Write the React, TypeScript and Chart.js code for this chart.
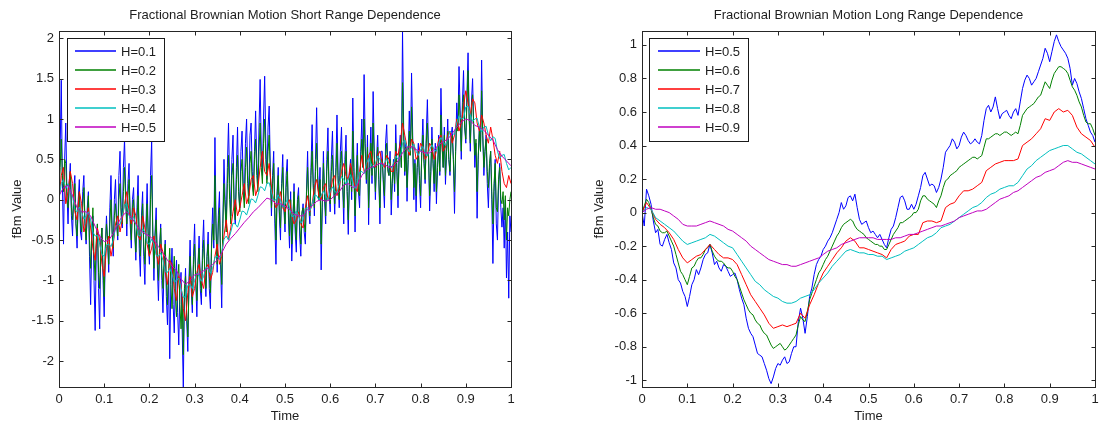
import React, { useEffect, useRef } from "react";
import { Chart, registerables } from "chart.js";

Chart.register(...registerables);

const FONT = '"Liberation Sans", Arial, Helvetica, sans-serif';
const TEXT = "#1e1e1e";
const COLORS = ["#0000ff", "#008000", "#ff0000", "#00bfbf", "#bf00bf"];

const SHORT_LABELS = ["H=0.1", "H=0.2", "H=0.3", "H=0.4", "H=0.5"];
const LONG_LABELS = ["H=0.5", "H=0.6", "H=0.7", "H=0.8", "H=0.9"];

const X_TICKS = [0, 0.1, 0.2, 0.3, 0.4, 0.5, 0.6, 0.7, 0.8, 0.9, 1];
const SHORT_Y_TICKS = [-2, -1.5, -1, -0.5, 0, 0.5, 1, 1.5, 2];
const LONG_Y_TICKS = [-1, -0.8, -0.6, -0.4, -0.2, 0, 0.2, 0.4, 0.6, 0.8, 1];

// ---- Short range dependence (left), samples evenly spaced over time 0..1 ----
const SHORT_H01 = [
  0.05, 0.6, 1.48, 0.2, -0.55, 0.5, 0.95, 0.1, -0.3, 0.2, 0.45, -0.2, -0.45, 0.1, 0.3, -0.3, -0.6, 0.0, 0.25, -0.4,
  -0.5, 0.1, 0.3, -0.3, -0.55, -0.1, 0.1, -0.7, -1.3, -0.5, -0.2, -1.0, -1.62, -0.6, -0.3, -1.1, -1.6, -0.5, -0.35, -1.0,
  -1.45, -0.6, -0.2, -0.5, -0.9, -0.1, 0.3, -0.4, -0.7, 0.0, 0.25, -0.3, -0.5, 0.3, 0.6, -0.1, -0.35, 0.4, 0.75, 0.1,
  -0.45, 0.2, 0.45, -0.3, -0.6, 0.0, 0.15, -0.4, -0.75, -0.1, 0.3, -0.6, -0.95, -0.2, 0.1, -0.7, -1.05, -0.3, 0.2, -0.5,
  -0.8, 0.3, 0.74, -0.4, -1.0, -0.4, -0.1, -0.8, -1.25, -0.6, -0.3, -1.0, -1.4, -0.8, -0.5, -1.2, -1.55, -0.9, -1.97, -1.0,
  -0.6, -1.3, -1.65, -1.0, -0.75, -1.4, -1.8, -1.1, -0.9, -1.6, -2.32, -1.2, -0.85, -1.5, -1.88, -1.0, -0.5, -1.1, -1.4, -0.7,
  -0.3, -1.0, -1.45, -0.8, -0.45, -1.1, -1.3, -0.6, -0.25, -0.9, -1.2, -0.7, -0.4, -1.1, -1.35, -0.5, -0.1, -0.6, 0.77, -0.3,
  -0.9, -0.2, 0.1, -0.8, -1.34, -0.3, 0.5, 0.0, -0.35, 0.4, 0.95, 0.2, -0.2, 0.5, 0.8, -0.1, -0.3, 0.4, 0.9, 0.1,
  -0.1, 0.6, 0.85, 0.2, 0.0, 0.7, 1.0, 0.3, 0.05, 0.8, 0.95, 0.35, 0.1, 0.6, 1.1, 0.45, 0.2, 0.9, 1.49, 0.6,
  0.3, 1.0, 1.53, 0.7, 0.25, 0.9, 1.16, 0.4, -0.2, 0.3, 0.6, -0.3, -0.8, 0.1, 0.4, -0.2, -0.5, 0.2, 0.56, -0.1,
  -0.4, 0.3, 0.5, -0.2, -0.6, 0.1, -0.76, -0.3, 0.2, -0.4, -0.65, 0.0, 0.15, -0.45, -0.7, -0.2, -0.05, -0.4, -0.55, 0.1,
  0.6, -0.1, -0.3, 0.4, 0.93, 0.2, -0.2, 0.5, 1.14, 0.3, 0.0, 0.4, -0.87, -0.1, 0.6, 0.0, -0.3, 0.5, 0.89, 0.1,
  -0.15, 0.5, 0.85, 0.2, -0.18, 0.4, 1.05, 0.3, -0.1, 0.6, 0.9, 0.2, -0.3, 0.5, 0.8, 0.1, -0.43, 0.3, 0.5, 0.0,
  1.26, 0.4, -0.4, 0.3, 0.7, 0.1, -0.1, 0.6, 1.0, 0.4, 1.55, 0.7, 0.2, 0.8, -0.31, 0.5, 0.9, 0.2, 1.34, 0.6,
  0.0, 0.5, 0.8, 0.3, -0.3, 0.6, 0.6, 0.2, -0.1, 0.7, 0.93, 0.4, 0.3, 0.6, -0.19, 0.2, 0.5, 0.1, 0.93, 0.4,
  -0.1, 0.6, 0.8, 0.4, 2.09, 0.9, 0.3, 0.7, -0.02, 0.5, 1.1, 0.6, 1.57, 0.8, 0.0, 0.5, -0.15, 0.4, 0.7, 0.2,
  -0.1, 0.6, 1.0, 0.5, 0.2, 0.8, 1.24, 0.6, -0.14, 0.3, 0.9, 0.5, 0.1, 0.7, -0.05, 0.4, 0.8, 0.3, 1.38, 0.7,
  0.4, 0.9, 0.19, 0.6, 1.0, 0.5, 0.3, 0.8, 0.9, 0.5, -0.17, 0.6, 1.2, 0.9, 1.65, 1.1, 0.5, 1.2, 1.6, 0.9,
  0.7, 1.3, 1.82, 1.0, 0.6, 1.2, 1.5, 0.9, 0.4, 0.7, -0.23, 0.5, 0.9, 0.6, 1.73, 0.8, 0.3, 0.6, 0.8, 0.2,
  -0.1, 0.4, 0.6, 0.0, -0.79, 0.1, 0.5, -0.3, -0.5, 0.2, 0.45, -0.1, -0.34, -0.1, -0.6, 0.0, -0.97, -0.4, -1.22, -0.2,
  -0.4,
];

const SHORT_H02 = [
  0.0, 0.4, 0.75, 0.3, 0.1, 0.5, 0.45, 0.0, -0.1, 0.15, 0.35, -0.1, -0.25, 0.0, 0.2, -0.3, -0.45, -0.05, 0.1, -0.3,
  -0.4, -0.1, 0.15, -0.3, -0.5, -0.2, 0.05, -0.5, -0.85, -0.4, -0.1, -0.7, -1.0, -0.5, -0.3, -0.9, -1.1, -0.6, -0.35, -0.85,
  -1.2, -0.6, -0.3, -0.5, -0.8, -0.3, 0.0, -0.4, -0.6, -0.2, -0.05, -0.3, -0.45, 0.0, 0.2, -0.2, -0.3, 0.1, 0.4, 0.0,
  -0.3, 0.05, 0.25, -0.2, -0.5, -0.1, 0.0, -0.35, -0.65, -0.25, 0.05, -0.45, -0.7, -0.3, -0.05, -0.55, -0.8, -0.4, -0.05, -0.45,
  -0.7, 0.0, 0.3, -0.4, -0.85, -0.45, -0.25, -0.7, -1.0, -0.6, -0.35, -0.85, -1.1, -0.75, -0.55, -1.0, -1.3, -0.85, -0.6, -1.05,
  -1.35, -0.95, -0.7, -1.2, -1.45, -1.0, -0.8, -1.3, -1.6, -1.2, -1.92, -1.1, -0.95, -1.4, -1.7, -1.1, -0.7, -1.0, -1.3, -0.8,
  -0.55, -1.0, -1.25, -0.8, -0.6, -1.0, -1.15, -0.75, -0.5, -0.9, -1.1, -0.7, -0.55, -0.95, -1.15, -0.6, -0.3, -0.5, 0.3, -0.4,
  -0.8, -0.3, -0.1, -0.7, -1.05, -0.3, 0.2, -0.1, -0.4, 0.2, 0.55, 0.0, -0.3, 0.3, 0.45, -0.05, -0.25, 0.25, 0.55, 0.1,
  -0.15, 0.35, 0.5, 0.1, -0.1, 0.4, 0.65, 0.2, -0.05, 0.45, 0.6, 0.2, 0.05, 0.5, 0.75, 0.3, 0.1, 0.6, 0.95, 0.4,
  0.2, 0.7, 1.0, 0.5, 0.2, 0.6, 0.8, 0.3, -0.1, 0.2, 0.45, -0.1, -0.5, 0.05, 0.3, -0.15, -0.35, 0.1, 0.4, -0.05,
  -0.3, 0.15, 0.35, -0.1, -0.45, 0.0, -0.55, -0.2, 0.1, -0.3, -0.5, -0.05, 0.05, -0.3, -0.55, -0.15, -0.1, -0.3, -0.4, 0.05,
  0.4, 0.0, -0.2, 0.3, 0.6, 0.15, -0.1, 0.35, 0.7, 0.2, 0.0, 0.25, -0.55, 0.0, 0.45, 0.1, -0.2, 0.35, 0.6, 0.15,
  -0.05, 0.35, 0.55, 0.15, -0.05, 0.3, 0.7, 0.2, 0.0, 0.45, 0.6, 0.2, -0.1, 0.35, 0.6, 0.1, -0.25, 0.2, 0.4, 0.1,
  0.85, 0.35, -0.2, 0.25, 0.55, 0.1, 0.05, 0.5, 0.75, 0.4, 1.0, 0.6, 0.25, 0.65, -0.1, 0.35, 0.7, 0.3, 0.95, 0.5,
  0.1, 0.45, 0.65, 0.25, -0.1, 0.5, 0.5, 0.25, 0.05, 0.55, 0.7, 0.35, 0.3, 0.5, 0.0, 0.25, 0.45, 0.2, 0.7, 0.35,
  0.05, 0.5, 0.65, 0.4, 1.45, 0.8, 0.35, 0.65, 0.15, 0.5, 0.85, 0.55, 1.15, 0.7, 0.15, 0.45, 0.05, 0.4, 0.6, 0.3,
  0.05, 0.55, 0.8, 0.45, 0.25, 0.7, 0.95, 0.55, 0.05, 0.35, 0.75, 0.45, 0.2, 0.6, 0.1, 0.4, 0.7, 0.35, 1.05, 0.65,
  0.4, 0.8, 0.3, 0.6, 0.85, 0.5, 0.35, 0.75, 0.8, 0.5, 0.1, 0.6, 1.0, 0.85, 1.3, 1.0, 0.6, 1.1, 1.3, 0.9,
  0.75, 1.2, 1.6, 1.0, 0.7, 1.15, 1.3, 0.9, 0.55, 0.75, 0.1, 0.55, 0.85, 0.6, 1.35, 0.8, 0.4, 0.6, 0.75, 0.35,
  0.15, 0.45, 0.6, 0.1, -0.3, 0.2, 0.45, -0.1, -0.15, 0.25, 0.4, 0.0, -0.05, 0.1, -0.25, 0.05, -0.5, -0.1, -0.2, 0.0,
  0.1,
];

const SHORT_H03 = [
  0.0, 0.3, 0.4, -0.05, 0.1, 0.35, 0.2, -0.15, -0.25, 0.1, -0.05, -0.4, -0.3, -0.1, -0.35, -0.6, -0.75, -0.35, -0.5, -0.8,
  -0.95, -0.6, -0.45, -0.7, -0.55, -0.3, -0.2, -0.4, -0.25, -0.05, 0.1, -0.15, -0.3, -0.1, -0.2, -0.45, -0.5, -0.2, -0.35, -0.55,
  -0.7, -0.6, -0.45, -0.65, -0.8, -0.55, -0.65, -0.9, -1.05, -0.75, -0.8, -1.1, -1.25, -0.95, -1.05, -1.35, -1.5, -1.15, -0.95, -1.2,
  -1.1, -0.9, -0.8, -1.0, -1.1, -0.85, -0.8, -1.0, -0.9, -0.7, -0.55, -0.8, -0.7, -0.45, -0.25, -0.5, -0.35, -0.15, 0.0, -0.2,
  -0.1, 0.05, 0.2, -0.05, 0.05, 0.25, 0.3, 0.05, 0.15, 0.4, 0.6, 0.35, 0.3, 0.45, 0.15, 0.0, -0.1, -0.05, 0.1, -0.1,
  -0.15, -0.05, 0.0, -0.2, -0.3, -0.25, -0.15, -0.3, -0.35, -0.1, 0.05, -0.15, -0.05, 0.15, 0.25, 0.05, 0.0, 0.15, 0.2, 0.0,
  0.05, 0.25, 0.3, 0.05, 0.15, 0.35, 0.45, 0.3, 0.25, 0.45, 0.3, 0.15, 0.1, 0.35, 0.55, 0.35, 0.4, 0.55, 0.6, 0.45,
  0.4, 0.55, 0.6, 0.45, 0.4, 0.55, 0.5, 0.35, 0.35, 0.6, 0.55, 0.7, 0.95, 0.8, 0.65, 0.55, 0.75, 0.7, 0.5, 0.55,
  0.7, 0.65, 0.5, 0.55, 0.7, 0.65, 0.5, 0.6, 0.75, 0.8, 0.6, 0.65, 0.8, 0.85, 0.7, 0.8, 1.0, 0.85, 0.95, 1.15,
  1.35, 1.2, 1.05, 1.25, 1.2, 0.95, 0.85, 1.05, 0.95, 0.8, 0.7, 0.9, 0.75, 0.55, 0.45, 0.6, 0.35, 0.2, 0.15, 0.3,
  0.2,
];

const SHORT_H04 = [
  0.0, 0.2, 0.25, 0.14, 0.2, 0.1, 0.05, -0.12, -0.15, -0.09, -0.15, -0.24, -0.2, -0.15, -0.25, -0.4, -0.45, -0.44, -0.55, -0.68,
  -0.7, -0.56, -0.55, -0.58, -0.5, -0.34, -0.3, -0.31, -0.2, -0.06, -0.05, -0.2, -0.25, -0.21, -0.3, -0.44, -0.45, -0.36, -0.4, -0.54,
  -0.55, -0.49, -0.55, -0.69, -0.7, -0.66, -0.75, -0.89, -0.9, -0.85, -0.92, -1.02, -1.0, -0.97, -1.1, -1.21, -1.2, -1.06, -1.05, -1.1,
  -1.0, -0.91, -0.95, -1.01, -0.95, -0.84, -0.85, -0.91, -0.85, -0.71, -0.7, -0.74, -0.65, -0.49, -0.45, -0.5, -0.4, -0.29, -0.3, -0.34,
  -0.25, -0.14, -0.15, -0.19, -0.1, 0.01, 0.0, -0.04, 0.05, 0.16, 0.15, 0.11, 0.2, 0.21, 0.1, -0.01, 0.0, 0.06, 0.0, -0.09,
  -0.05, 0.0, -0.1, -0.21, -0.2, -0.14, -0.2, -0.29, -0.25, -0.11, -0.1, -0.14, -0.05, 0.06, 0.05, 0.0, 0.05, 0.11, 0.05, 0.0,
  0.1, 0.16, 0.1, 0.09, 0.2, 0.29, 0.25, 0.19, 0.25, 0.31, 0.2, 0.14, 0.2, 0.34, 0.35, 0.32, 0.45, 0.51, 0.45, 0.39,
  0.45, 0.54, 0.5, 0.41, 0.45, 0.51, 0.45, 0.39, 0.45, 0.54, 0.5, 0.52, 0.7, 0.74, 0.65, 0.59, 0.65, 0.69, 0.6, 0.55,
  0.62, 0.66, 0.58, 0.54, 0.62, 0.68, 0.62, 0.6, 0.7, 0.77, 0.72, 0.67, 0.75, 0.85, 0.82, 0.81, 0.95, 1.04, 1.0, 1.01,
  1.15, 1.16, 1.05, 0.97, 1.0, 1.01, 0.9, 0.84, 0.9, 0.91, 0.8, 0.73, 0.78, 0.76, 0.6, 0.51, 0.55, 0.56, 0.45, 0.37,
  0.4,
];

const SHORT_H05 = [
  0.05, 0.15, 0.18, 0.05, -0.1, -0.15, -0.15, -0.2, -0.33, -0.45,
  -0.52, -0.5, -0.42, -0.3, -0.2, -0.15, -0.22, -0.3, -0.38, -0.42,
  -0.45, -0.5, -0.58, -0.66, -0.75, -0.82, -0.88, -0.98, -1.05, -1.0,
  -0.93, -0.92, -0.88, -0.85, -0.8, -0.75, -0.66, -0.55, -0.48, -0.42,
  -0.35, -0.28, -0.22, -0.15, -0.1, -0.04, 0.02, 0.0, -0.05, -0.05,
  -0.08, -0.12, -0.18, -0.2, -0.2, -0.12, -0.08, -0.02, 0.0, -0.02,
  0.0, 0.05, 0.1, 0.18, 0.2, 0.15, 0.18, 0.3, 0.37, 0.4,
  0.42, 0.45, 0.44, 0.4, 0.42, 0.48, 0.58, 0.65, 0.66, 0.62,
  0.6, 0.58, 0.58, 0.62, 0.68, 0.72, 0.75, 0.82, 0.9, 0.96,
  1.0, 0.98, 0.92, 0.9, 0.86, 0.8, 0.74, 0.62, 0.54, 0.48,
  0.42,
];

// ---- Long range dependence (right) ----
const LONG_H05 = [
  0.0, -0.08, 0.14, 0.1, 0.05, -0.05, -0.12, -0.1, -0.19, -0.2, -0.16, -0.13, -0.18, -0.22, -0.3, -0.33, -0.4, -0.42, -0.47, -0.5,
  -0.56, -0.5, -0.43, -0.4, -0.34, -0.37, -0.33, -0.28, -0.25, -0.24, -0.19, -0.24, -0.31, -0.29, -0.33, -0.35, -0.31, -0.32, -0.35, -0.38,
  -0.37, -0.36, -0.4, -0.46, -0.51, -0.55, -0.63, -0.69, -0.72, -0.74, -0.79, -0.84, -0.85, -0.86, -0.9, -0.94, -0.99, -1.02, -0.98, -0.93,
  -0.9, -0.91, -0.88, -0.86, -0.9, -0.89, -0.84, -0.8, -0.8, -0.65, -0.57, -0.63, -0.72, -0.62, -0.5, -0.45, -0.37, -0.31, -0.28, -0.26,
  -0.22, -0.2, -0.17, -0.15, -0.12, -0.08, -0.04, 0.0, 0.06, 0.02, 0.04, 0.09, 0.1, 0.07, 0.11, 0.03, -0.04, -0.07, -0.06, -0.05,
  -0.09, -0.12, -0.11, -0.13, -0.15, -0.13, -0.16, -0.19, -0.21, -0.15, -0.1, -0.08, -0.03, 0.03, 0.09, 0.1, 0.07, 0.02, 0.02, 0.05,
  0.02, 0.05, 0.1, 0.15, 0.22, 0.24, 0.2, 0.16, 0.17, 0.16, 0.12, 0.15, 0.2, 0.27, 0.36, 0.38, 0.4, 0.44, 0.42, 0.38,
  0.4, 0.45, 0.48, 0.46, 0.43, 0.41, 0.42, 0.44, 0.42, 0.41, 0.46, 0.55, 0.62, 0.64, 0.6, 0.63, 0.69, 0.62, 0.56, 0.59,
  0.6, 0.61, 0.58, 0.56, 0.6, 0.62, 0.58, 0.66, 0.74, 0.79, 0.82, 0.8, 0.76, 0.78, 0.8, 0.84, 0.88, 0.92, 0.98, 0.95,
  0.9, 0.96, 1.02, 1.06, 1.02, 0.99, 0.97, 0.95, 0.92, 0.86, 0.76, 0.8, 0.77, 0.72, 0.68, 0.62, 0.56, 0.52, 0.48, 0.46,
  0.42,
];

const LONG_H06 = [
  0.0, 0.04, 0.08, 0.06, 0.02, -0.03, -0.07, -0.08, -0.11, -0.12, -0.12, -0.11, -0.14, -0.17, -0.2, -0.25, -0.3, -0.35, -0.37, -0.4,
  -0.43, -0.38, -0.33, -0.32, -0.29, -0.27, -0.27, -0.25, -0.22, -0.21, -0.19, -0.23, -0.26, -0.28, -0.29, -0.29, -0.3, -0.32, -0.33, -0.33,
  -0.35, -0.38, -0.4, -0.44, -0.48, -0.52, -0.55, -0.58, -0.6, -0.61, -0.64, -0.66, -0.67, -0.7, -0.72, -0.73, -0.76, -0.79, -0.81, -0.8,
  -0.79, -0.78, -0.8, -0.82, -0.81, -0.79, -0.77, -0.75, -0.73, -0.67, -0.62, -0.64, -0.65, -0.59, -0.52, -0.48, -0.44, -0.4, -0.36, -0.34,
  -0.31, -0.28, -0.26, -0.23, -0.2, -0.17, -0.14, -0.12, -0.09, -0.07, -0.06, -0.05, -0.04, -0.05, -0.08, -0.1, -0.11, -0.12, -0.13, -0.15,
  -0.16, -0.17, -0.18, -0.19, -0.19, -0.2, -0.2, -0.22, -0.22, -0.19, -0.16, -0.13, -0.11, -0.09, -0.06, -0.06, -0.05, -0.04, -0.03, -0.02,
  0.0, 0.0, 0.02, 0.07, 0.1, 0.1, 0.08, 0.07, 0.06, 0.05, 0.03, 0.07, 0.1, 0.15, 0.19, 0.2, 0.22, 0.23, 0.24, 0.25,
  0.27, 0.28, 0.29, 0.3, 0.31, 0.32, 0.33, 0.33, 0.32, 0.33, 0.34, 0.39, 0.44, 0.44, 0.45, 0.46, 0.47, 0.47, 0.46, 0.47,
  0.48, 0.48, 0.47, 0.46, 0.47, 0.48, 0.47, 0.52, 0.58, 0.6, 0.62, 0.63, 0.64, 0.65, 0.67, 0.69, 0.7, 0.74, 0.78, 0.76,
  0.74, 0.79, 0.83, 0.85, 0.87, 0.87, 0.86, 0.85, 0.83, 0.79, 0.75, 0.73, 0.7, 0.66, 0.63, 0.58, 0.54, 0.53, 0.53, 0.5,
  0.46,
];

const LONG_H07 = [
  0.0, 0.06, 0.02, -0.04, -0.07, -0.09, -0.12, -0.16, -0.22, -0.27,
  -0.3, -0.28, -0.26, -0.25, -0.22, -0.19, -0.22, -0.25, -0.27, -0.27,
  -0.28, -0.31, -0.37, -0.43, -0.49, -0.53, -0.57, -0.61, -0.66, -0.69,
  -0.68, -0.67, -0.68, -0.67, -0.66, -0.6, -0.63, -0.55, -0.49, -0.42,
  -0.36, -0.32, -0.28, -0.24, -0.21, -0.17, -0.15, -0.17, -0.21, -0.21,
  -0.22, -0.23, -0.24, -0.25, -0.27, -0.22, -0.19, -0.18, -0.17, -0.14,
  -0.13, -0.13, -0.06, -0.05, -0.05, -0.06, -0.05, 0.03, 0.05, 0.06,
  0.1, 0.13, 0.13, 0.14, 0.16, 0.18, 0.25, 0.27, 0.29, 0.3,
  0.31, 0.31, 0.31, 0.32, 0.4, 0.42, 0.44, 0.47, 0.5, 0.56,
  0.55, 0.6, 0.62, 0.6, 0.61, 0.58, 0.51, 0.47, 0.45, 0.43,
  0.39,
];

const LONG_H08 = [
  0.0, 0.03, 0.02, -0.03, -0.05, -0.07, -0.09, -0.11, -0.14, -0.17,
  -0.19, -0.18, -0.17, -0.16, -0.15, -0.13, -0.14, -0.16, -0.18, -0.2,
  -0.21, -0.25, -0.29, -0.33, -0.37, -0.41, -0.43, -0.46, -0.48, -0.5,
  -0.51, -0.53, -0.54, -0.54, -0.53, -0.51, -0.5, -0.49, -0.46, -0.42,
  -0.39, -0.36, -0.32, -0.29, -0.26, -0.23, -0.22, -0.23, -0.24, -0.24,
  -0.25, -0.25, -0.26, -0.26, -0.28, -0.27, -0.26, -0.25, -0.23, -0.22,
  -0.21, -0.19, -0.17, -0.15, -0.14, -0.12, -0.09, -0.08, -0.07, -0.05,
  -0.03, -0.01, 0.01, 0.03, 0.04, 0.06, 0.09, 0.11, 0.12, 0.14,
  0.15, 0.16, 0.16, 0.18, 0.22, 0.26, 0.28, 0.31, 0.33, 0.35,
  0.37, 0.38, 0.39, 0.4, 0.4, 0.38, 0.36, 0.35, 0.33, 0.31,
  0.29,
];

const LONG_H09 = [
  0.0, 0.02, 0.03, 0.02, 0.02, 0.01, 0.0, -0.02, -0.04, -0.07,
  -0.08, -0.08, -0.08, -0.07, -0.06, -0.05, -0.06, -0.07, -0.08, -0.1,
  -0.11, -0.13, -0.15, -0.17, -0.2, -0.22, -0.24, -0.26, -0.28, -0.29,
  -0.3, -0.31, -0.31, -0.32, -0.32, -0.31, -0.3, -0.29, -0.28, -0.27,
  -0.25, -0.23, -0.22, -0.21, -0.19, -0.18, -0.17, -0.16, -0.15, -0.15,
  -0.15, -0.15, -0.16, -0.16, -0.16, -0.16, -0.15, -0.15, -0.14, -0.13,
  -0.13, -0.12, -0.11, -0.1, -0.09, -0.08, -0.08, -0.07, -0.06, -0.05,
  -0.03, -0.02, -0.01, 0.0, 0.01, 0.01, 0.02, 0.04, 0.06, 0.08,
  0.09, 0.1, 0.12, 0.13, 0.15, 0.17, 0.19, 0.21, 0.22, 0.24,
  0.25, 0.26, 0.28, 0.3, 0.31, 0.3, 0.3, 0.29, 0.28, 0.27,
  0.26,
];

type LegendSpec = { dx: number; w: number; line0: number; line1: number; text: number };
type PanelSpec = {
  title: string;
  labels: string[];
  series: number[][];
  yMin: number;
  yMax: number;
  yTicks: number[];
  axisWidth: number;
  padRight: number;
  ylabelX: number;
  legend: LegendSpec;
};

const SHORT_PANEL: PanelSpec = {
  title: "Fractional Brownian Motion Short Range Dependence",
  labels: SHORT_LABELS,
  series: [SHORT_H01, SHORT_H02, SHORT_H03, SHORT_H04, SHORT_H05],
  yMin: -2.32,
  yMax: 2.09,
  yTicks: SHORT_Y_TICKS,
  axisWidth: 59,
  padRight: 49,
  ylabelX: 17,
  legend: { dx: 8, w: 97, line0: 8, line1: 49, text: 54 },
};

const LONG_PANEL: PanelSpec = {
  title: "Fractional Brownian Motion Long Range Dependence",
  labels: LONG_LABELS,
  series: [LONG_H05, LONG_H06, LONG_H07, LONG_H08, LONG_H09],
  yMin: -1.04,
  yMax: 1.083,
  yTicks: LONG_Y_TICKS,
  axisWidth: 97,
  padRight: 10,
  ylabelX: 54,
  legend: { dx: 7, w: 99, line0: 9, line1: 51, text: 56 },
};

const fmt = (v: number) => String(Math.round(v * 10) / 10);

function makeFramePlugin(spec: PanelSpec) {
  return {
    id: "matlabFrame",
    afterDraw(chart: any) {
      const ctx = chart.ctx as CanvasRenderingContext2D;
      const a = chart.chartArea;
      const xs = chart.scales.x;
      const ys = chart.scales.y;
      const L = Math.round(a.left) + 0.5;
      const R = Math.round(a.right) + 0.5;
      const T = Math.round(a.top) + 0.5;
      const B = Math.round(a.bottom) + 0.5;
      ctx.save();
      ctx.strokeStyle = "#262626";
      ctx.lineWidth = 1;
      ctx.strokeRect(L, T, R - L, B - T);
      const tl = 4;
      ctx.beginPath();
      X_TICKS.forEach((v) => {
        const px = Math.round(xs.getPixelForValue(v)) + 0.5;
        ctx.moveTo(px, B);
        ctx.lineTo(px, B - tl);
        ctx.moveTo(px, T);
        ctx.lineTo(px, T + tl);
      });
      spec.yTicks.forEach((v) => {
        const py = Math.round(ys.getPixelForValue(v)) + 0.5;
        ctx.moveTo(L, py);
        ctx.lineTo(L + tl, py);
        ctx.moveTo(R, py);
        ctx.lineTo(R - tl, py);
      });
      ctx.stroke();

      // legend
      const lg = spec.legend;
      const bx = Math.round(a.left) + lg.dx;
      const by = Math.round(a.top) + 7;
      const bh = 103;
      ctx.fillStyle = "#ffffff";
      ctx.fillRect(bx, by, lg.w, bh);
      ctx.strokeStyle = "#1a1a1a";
      ctx.lineWidth = 1;
      ctx.strokeRect(bx + 0.5, by + 0.5, lg.w, bh);
      ctx.font = `13px ${FONT}`;
      ctx.textAlign = "left";
      ctx.textBaseline = "middle";
      spec.labels.forEach((lab, i) => {
        const y = by + 13 + i * 19;
        ctx.strokeStyle = COLORS[i];
        ctx.lineWidth = 1.5;
        ctx.beginPath();
        ctx.moveTo(bx + lg.line0, y);
        ctx.lineTo(bx + lg.line1, y);
        ctx.stroke();
        ctx.fillStyle = TEXT;
        ctx.fillText(lab, bx + lg.text, y + 1);
      });

      // titles
      const cx = (a.left + a.right) / 2;
      ctx.fillStyle = TEXT;
      ctx.textAlign = "center";
      ctx.textBaseline = "middle";
      ctx.font = `13px ${FONT}`;
      ctx.fillText(spec.title, cx, 15);
      ctx.fillText("Time", cx, 416);
      ctx.translate(spec.ylabelX, (a.top + a.bottom) / 2);
      ctx.rotate(-Math.PI / 2);
      ctx.fillText("fBm Value", 0, 0);
      ctx.restore();
    },
  };
}

function buildConfig(spec: PanelSpec): any {
  const n = spec.series.length;
  return {
    type: "line",
    data: {
      datasets: spec.series.map((vals, i) => ({
        label: spec.labels[i],
        data: vals.map((v, j) => ({ x: j / (vals.length - 1), y: v })),
        borderColor: COLORS[i],
        borderWidth: 1,
        pointRadius: 0,
        tension: 0,
        fill: false,
        order: n - i,
      })),
    },
    options: {
      animation: false,
      responsive: false,
      maintainAspectRatio: false,
      events: [],
      layout: { padding: { top: 31, right: spec.padRight, bottom: 0, left: 0 } },
      plugins: { legend: { display: false }, tooltip: { enabled: false }, title: { display: false } },
      scales: {
        x: {
          type: "linear",
          min: 0,
          max: 1,
          afterBuildTicks: (s: any) => {
            s.ticks = X_TICKS.map((v) => ({ value: v }));
          },
          afterFit: (s: any) => {
            s.height = 39;
          },
          grid: { display: false, drawTicks: false },
          border: { display: false },
          ticks: {
            padding: 5,
            autoSkip: false,
            maxRotation: 0,
            color: TEXT,
            font: { family: FONT, size: 13 },
            callback: (v: number) => fmt(v),
          },
        },
        y: {
          type: "linear",
          min: spec.yMin,
          max: spec.yMax,
          afterBuildTicks: (s: any) => {
            s.ticks = spec.yTicks.map((v) => ({ value: v }));
          },
          afterFit: (s: any) => {
            s.width = spec.axisWidth;
          },
          grid: { display: false, drawTicks: false },
          border: { display: false },
          ticks: {
            padding: 5,
            autoSkip: false,
            color: TEXT,
            font: { family: FONT, size: 13 },
            callback: (v: number) => fmt(v),
          },
        },
      },
    },
    plugins: [makeFramePlugin(spec)],
  };
}

function Panel({ spec, left }: { spec: PanelSpec; left: number }) {
  const ref = useRef<HTMLCanvasElement | null>(null);
  useEffect(() => {
    if (!ref.current) return;
    const chart = new Chart(ref.current, buildConfig(spec));
    return () => chart.destroy();
  }, [spec]);
  return (
    <canvas
      ref={ref}
      width={560}
      height={426}
      style={{ position: "absolute", left, top: 0, width: 560, height: 426 }}
    />
  );
}

export default function App() {
  return (
    <div style={{ position: "fixed", left: 0, top: 0, width: 1105, height: 426, background: "#ffffff", overflow: "hidden" }}>
      <Panel spec={SHORT_PANEL} left={0} />
      <Panel spec={LONG_PANEL} left={545} />
    </div>
  );
}
